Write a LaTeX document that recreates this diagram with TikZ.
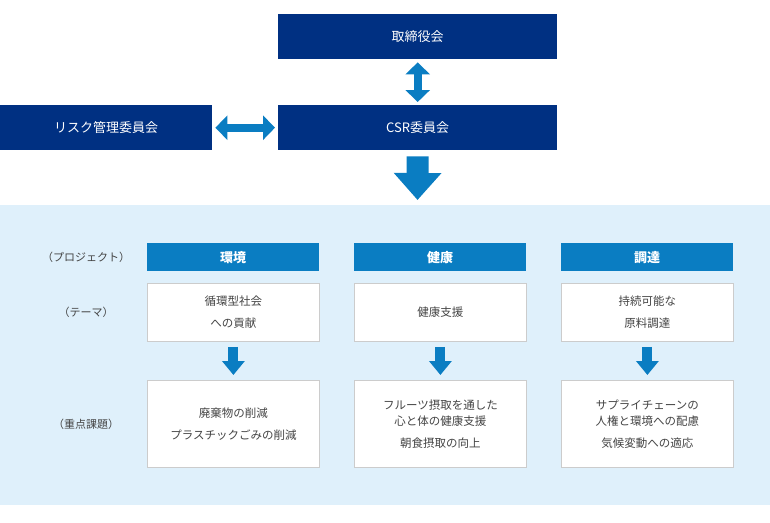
\documentclass[tikz,border=0pt]{standalone}
\usepackage{fontspec}
\setmainfont{Noto Sans CJK JP}
\usetikzlibrary{arrows.meta}
\definecolor{navy}{HTML}{003082}
\definecolor{mblue}{HTML}{0A7DC2}
\definecolor{lbg}{HTML}{DFF0FB}
\definecolor{gtxt}{HTML}{444444}
\definecolor{gbd}{HTML}{CCCCCC}
\begin{document}
\begin{tikzpicture}[x=1pt,y=-1pt,
 top/.style={fill=navy,text=white,minimum height=45pt,inner sep=0,font=\fontsize{13}{15}\selectfont,anchor=north west},
 head/.style={fill=mblue,text=white,minimum width=172pt,minimum height=28pt,inner sep=0,font=\bfseries\fontsize{13}{15}\selectfont,anchor=north west},
 box/.style={fill=white,draw=gbd,line width=0.8pt,minimum width=172pt,text=gtxt,inner sep=0,align=center,font=\fontsize{11.5}{22}\selectfont,anchor=north west},
 lab/.style={text=gtxt,font=\fontsize{11}{13}\selectfont},
 dbl/.style={draw=mblue,line width=8pt,{Triangle[width=24pt,length=12pt]}-{Triangle[width=24pt,length=12pt]},shorten <=3pt,shorten >=3pt},
 sarr/.style={draw=mblue,line width=10pt,-{Triangle[width=22pt,length=14pt]},shorten <=5pt,shorten >=5pt},
]
\useasboundingbox (0,0) rectangle (770,522);
\fill[lbg] (0,205) rectangle (770,505);
\node[top,minimum width=279pt] (board) at (278,14) {取締役会};
\node[top,minimum width=279pt] (csr) at (278,105) {CSR委員会};
\node[top,minimum width=212pt] (risk) at (0,105) {リスク管理委員会};
\draw[dbl] (board) -- (csr);
\draw[dbl] (risk) -- (csr);
\coordinate (bgtop) at (417.5,205);
\draw[draw=mblue,line width=22pt,-{Triangle[width=46pt,length=27pt]},shorten <=6pt,shorten >=5pt] (csr.south) -- (bgtop);
\node[lab] (l1) at (86,257) {（プロジェクト）};
\node[lab] (l2) at (86,312) {（テーマ）};
\node[lab] (l3) at (86,424) {（重点課題）};
\foreach \i/\x/\h/\a/\b in {1/147/環境/{循環型社会\\への貢献}/{廃棄物の削減\\プラスチックごみの削減},
 2/354/健康/{健康支援}/{フルーツ摂取を通した\\[-6pt]心と体の健康支援\\朝食摂取の向上},
 3/561/調達/{持続可能な\\原料調達}/{サプライチェーンの\\[-6pt]人権と環境への配慮\\気候変動への適応}}{
 \node[head] (h\i) at (\x,243) {\h};
 \node[box,minimum height=58pt] (t\i) at (\x,283) {\a};
 \node[box,minimum height=87pt] (k\i) at (\x,380) {\b};
 \draw[sarr] (t\i) -- (k\i);
}
\end{tikzpicture}
\end{document}
